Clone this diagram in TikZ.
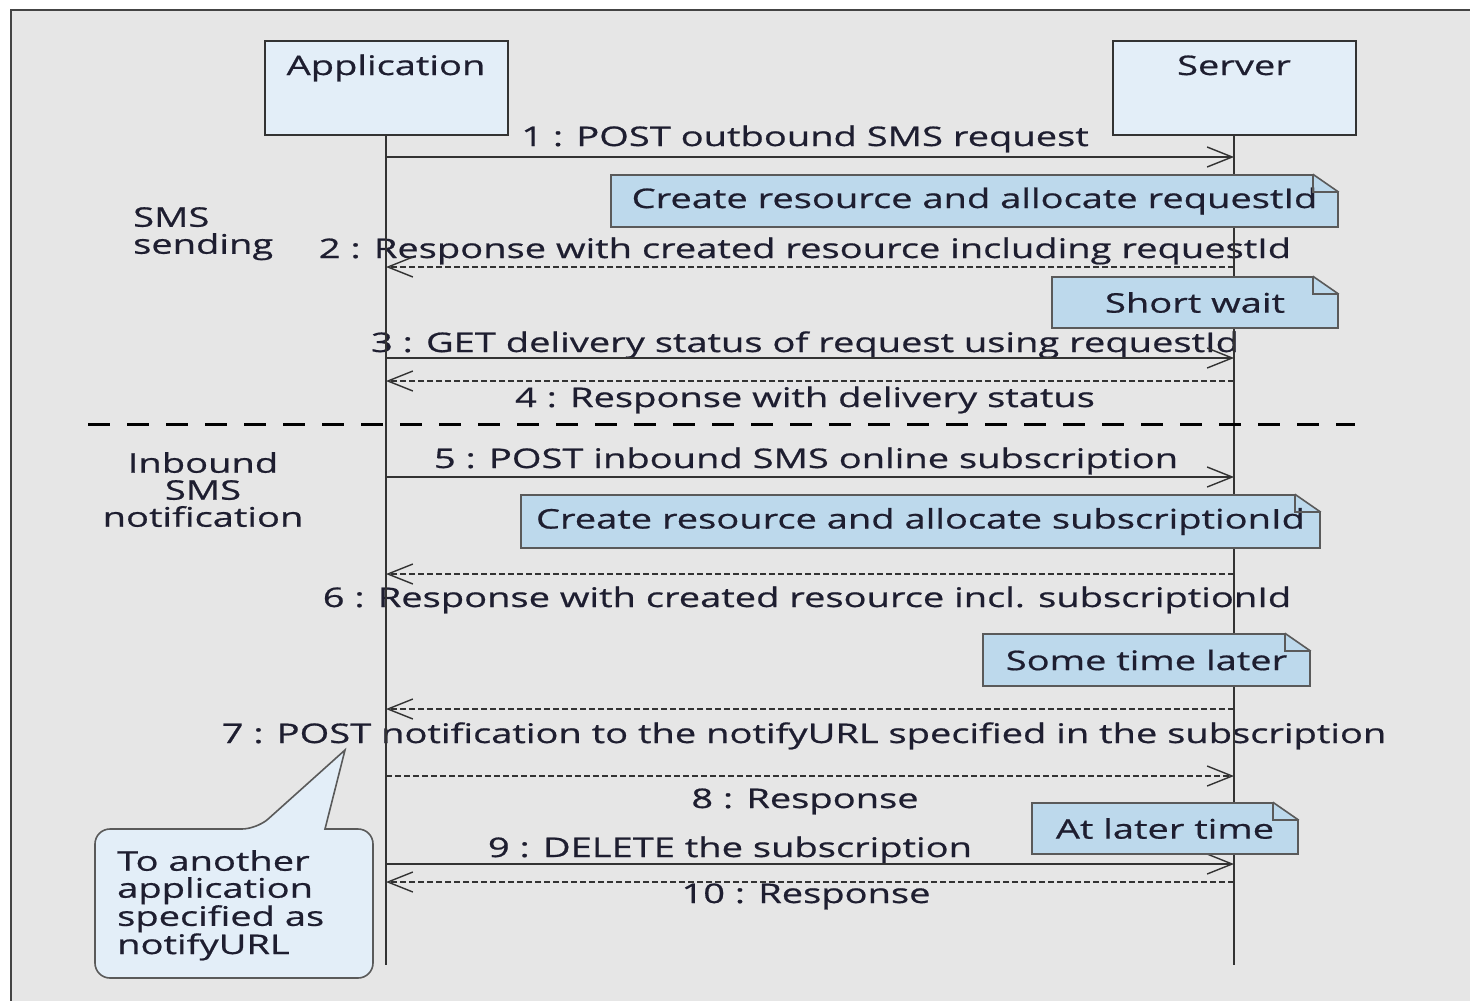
\documentclass[tikz,border=0pt]{standalone}
\usepackage{fontspec}
\setmainfont[FakeStretch=1.41, FakeBold=0.7]{Open Sans}
\usetikzlibrary{arrows.meta, positioning}

\definecolor{framebg}{HTML}{E6E6E6}
\definecolor{framedraw}{HTML}{444444}
\definecolor{partfill}{HTML}{E3EEF8}
\definecolor{notefill}{HTML}{BDD9EC}
\definecolor{notedraw}{HTML}{5A5A5A}
\definecolor{inkcol}{HTML}{1E1E30}
\definecolor{linecol}{HTML}{333333}

\tikzset{
  participant/.style={draw=linecol, line width=2pt, fill=partfill,
    minimum width=243pt, minimum height=94pt, inner xsep=0pt,
    inner ysep=8pt, text height=26pt, text depth=52pt},
  lifeline/.style={draw=linecol, line width=2pt},
  note/.style={draw=notedraw, line width=1.6pt, fill=notefill, inner sep=0pt},
  fold/.style={draw=notedraw, line width=1.6pt},
  msg/.style={draw=linecol, line width=1.5pt,
    -{Straight Barb[length=25pt, width=20pt, line width=1.4pt]}},
  reply/.style={msg, line width=1.2pt, dash pattern=on 6pt off 3pt},
  lbl/.style={anchor=base, inner sep=0pt},
  sectionlbl/.style={inner sep=0pt},
}

\begin{document}
\begin{tikzpicture}[x=1pt, y=-1pt, font=\fontsize{27pt}{27pt}\selectfont, text=inkcol]
  \useasboundingbox (0,0) rectangle (1470,1001);

  % frame
  \fill[white] (0,0) rectangle (1470,1001);
  \fill[framebg] (11,10) rectangle (1470,1001);
  \draw[framedraw, line width=2pt] (11,1001) -- (11,10) -- (1470,10);

  % participants
  \node[participant] (app) at (386,88) {Application};
  \node[participant] (srv) at (1234,88) {Server};
  \coordinate (appEnd) at (386,965);
  \coordinate (srvEnd) at (1234,965);

  % section labels
  \node[sectionlbl, align=left, anchor=north west] (secSend) at (133,207) {SMS\\sending};
  \node[sectionlbl, align=center, anchor=north] (secInb) at (203,452) {Inbound\\SMS\\notification};

  % message labels
  \node[lbl] (m1) at (805,146) {1 : POST outbound SMS request};
  \node[lbl] (m2) at (805,258) {2 : Response with created resource including requestId};
  \node[lbl] (m3) at (805,352) {3 : GET delivery status of request using requestId};
  \node[lbl] (m4) at (805,407) {4 : Response with delivery status};
  \node[lbl] (m5) at (806,468) {5 : POST inbound SMS online subscription};
  \node[lbl] (m6) at (807,607) {6 : Response with created resource incl. subscriptionId};
  \node[lbl] (m7) at (804,743) {7 : POST notification to the notifyURL specified in the subscription};
  \node[lbl] (m8) at (805,808) {8 : Response};
  \node[lbl] (m9) at (730,857) {9 : DELETE the subscription};
  \node[lbl] (m10) at (806,903) {10 : Response};

  % lifelines
  \draw[lifeline] (app.south) -- (appEnd);
  \draw[lifeline] (srv.south) -- (srvEnd);

  % separator
  \draw[black, line width=3pt, dash pattern=on 22pt off 17pt] (88,424) -- (1355,424);

  % messages
  \foreach \i/\y in {1/157, 2/267, 3/358, 4/381, 5/477, 6/574, 7/709, 8/776, 9/864, 10/882}{
    \coordinate (a\i) at (386,\y);
    \coordinate (s\i) at (1234,\y);
  }
  \draw[msg] (a1) -- (s1);
  \draw[reply] (s2) -- (a2);
  \draw[msg] (a3) -- (s3);
  \draw[reply] (s4) -- (a4);
  \draw[msg] (a5) -- (s5);
  \draw[reply] (s6) -- (a6);
  \draw[reply] (s7) -- (a7);
  \draw[reply] (a8) -- (s8);
  \draw[msg] (a9) -- (s9);
  \draw[reply] (s10) -- (a10);

  % notes
  \node[note, minimum width=727pt, minimum height=52pt] (crReq) at (974.5,201) {Create resource and allocate requestId};
  \node[note, minimum width=286pt, minimum height=51pt] (waitA) at (1195,302.5) {Short wait};
  \node[note, minimum width=799pt, minimum height=53pt] (crSub) at (920.5,521.5) {Create resource and allocate subscriptionId};
  \node[note, minimum width=327pt, minimum height=52pt] (laterA) at (1146.5,660) {Some time later};
  \node[note, minimum width=266pt, minimum height=51pt] (laterB) at (1165,828.5) {At later time};
  \foreach \n in {crReq, waitA, crSub, laterA, laterB}{
    \fill[framebg] ([xshift=-26pt]\n.north east) -- ([xshift=-26pt, yshift=3pt]\n.north east)
      -- ([xshift=3pt, yshift=3pt]\n.north east) -- ([xshift=3pt, yshift=-18pt]\n.north east)
      -- ([yshift=-18pt]\n.north east) -- cycle;
    \draw[fold] ([xshift=-26pt]\n.north east) -- ([yshift=-18pt]\n.north east);
    \draw[fold] ([xshift=-26pt]\n.north east) -- ([xshift=-26pt, yshift=-18pt]\n.north east)
      -- ([yshift=-18pt]\n.north east);
  }

  % callout
  \draw[notedraw, line width=1.6pt, fill=partfill] (95,900) [rounded corners=15pt] -- (95,829)
    -- (257,829) [sharp corners] -- (345,750) -- (325,829) [rounded corners=15pt]
    -- (373,829) -- (373,978) -- (95,978) -- cycle;
  \node[sectionlbl, align=left, anchor=north west] (toApp) at (117,850)
    {To another\\application\\specified as\\notifyURL};
\end{tikzpicture}
\end{document}
